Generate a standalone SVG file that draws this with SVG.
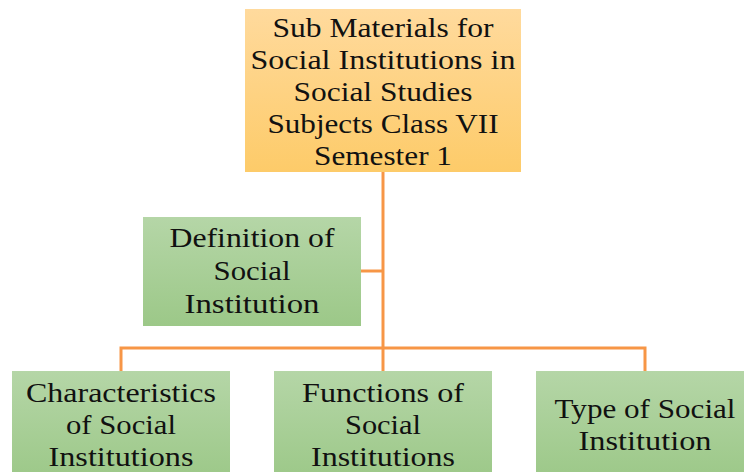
<svg xmlns="http://www.w3.org/2000/svg" width="744" height="472" viewBox="0 0 744 472">
<defs>
<linearGradient id="gOrange" x1="0" y1="0" x2="0" y2="1">
<stop offset="0" stop-color="#FFDA9D"/>
<stop offset="1" stop-color="#FDCB69"/>
</linearGradient>
<linearGradient id="gGreen" x1="0" y1="0" x2="0" y2="1">
<stop offset="0" stop-color="#B5D6A7"/>
<stop offset="1" stop-color="#9CC888"/>
</linearGradient>
<style>
.t{font-family:"Liberation Serif","Times New Roman",serif;font-size:27px;fill:#111;text-anchor:middle}
.c{fill:none;stroke:#F79646;stroke-width:3}
</style>
</defs>
<rect width="744" height="472" fill="#fff"/>
<g id="connectors">
<path class="c" d="M383,172 V348"/>
<path class="c" d="M361,271 H383"/>
<path class="c" d="M121,371 V348 H645 V371"/>
<path class="c" d="M383,348 V371"/>
</g>
<g id="root">
<rect x="245" y="9" width="276" height="163" fill="url(#gOrange)"/>
<text class="t" x="383" y="37" textLength="221" lengthAdjust="spacingAndGlyphs">Sub Materials for</text>
<text class="t" x="383" y="69" textLength="265" lengthAdjust="spacingAndGlyphs">Social Institutions in</text>
<text class="t" x="383" y="101" textLength="179" lengthAdjust="spacingAndGlyphs">Social Studies</text>
<text class="t" x="383" y="133" textLength="231" lengthAdjust="spacingAndGlyphs">Subjects Class VII</text>
<text class="t" x="383" y="165" textLength="138" lengthAdjust="spacingAndGlyphs">Semester 1</text>
</g>
<g id="definition">
<rect x="143" y="217" width="218" height="109" fill="url(#gGreen)"/>
<text class="t" x="252" y="247" textLength="165" lengthAdjust="spacingAndGlyphs">Definition of</text>
<text class="t" x="252" y="280" textLength="77" lengthAdjust="spacingAndGlyphs">Social</text>
<text class="t" x="252" y="313" textLength="135" lengthAdjust="spacingAndGlyphs">Institution</text>
</g>
<g id="characteristics">
<rect x="12" y="371" width="218" height="109" fill="url(#gGreen)"/>
<text class="t" x="121" y="402" textLength="190" lengthAdjust="spacingAndGlyphs">Characteristics</text>
<text class="t" x="121" y="434" textLength="110" lengthAdjust="spacingAndGlyphs">of Social</text>
<text class="t" x="121" y="466" textLength="145" lengthAdjust="spacingAndGlyphs">Institutions</text>
</g>
<g id="functions">
<rect x="274" y="371" width="218" height="109" fill="url(#gGreen)"/>
<text class="t" x="383" y="402" textLength="162" lengthAdjust="spacingAndGlyphs">Functions of</text>
<text class="t" x="383" y="434" textLength="76" lengthAdjust="spacingAndGlyphs">Social</text>
<text class="t" x="383" y="466" textLength="144" lengthAdjust="spacingAndGlyphs">Institutions</text>
</g>
<g id="type">
<rect x="536" y="371" width="218" height="109" fill="url(#gGreen)"/>
<text class="t" x="645" y="418" textLength="181" lengthAdjust="spacingAndGlyphs">Type of Social</text>
<text class="t" x="645" y="450" textLength="133" lengthAdjust="spacingAndGlyphs">Institution</text>
</g>
</svg>
